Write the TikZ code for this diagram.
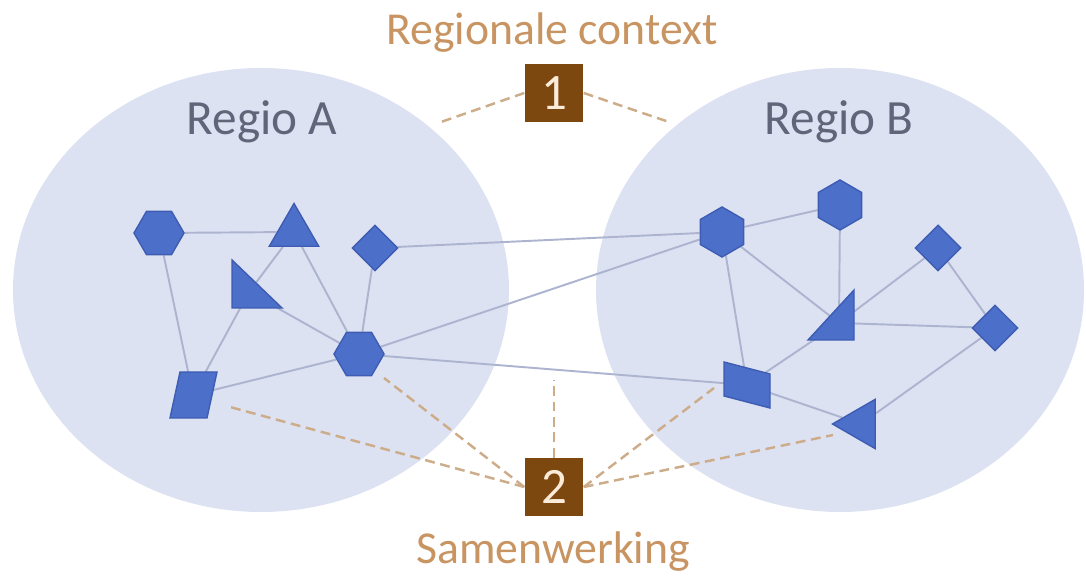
\documentclass[tikz,border=0pt]{standalone}
\usepackage{fontspec}
\setmainfont{Carlito}
\usepackage{xcolor}
\usepackage{tikz}
\usetikzlibrary{shapes.geometric}
\definecolor{regiofill}{RGB}{221,226,243}
\definecolor{shapeblue}{RGB}{76,111,201}
\definecolor{shapeedge}{RGB}{62,92,178}
\definecolor{linkgray}{RGB}{172,180,207}
\definecolor{dashtan}{RGB}{205,172,138}
\definecolor{boxbrown}{RGB}{125,72,16}
\definecolor{boxtext}{RGB}{250,236,216}
\definecolor{labeltan}{RGB}{200,148,98}
\definecolor{regiogray}{RGB}{95,102,122}
\pgfdeclarelayer{bg}
\pgfdeclarelayer{edges}
\pgfsetlayers{bg,edges,main}
\tikzset{
  shp/.style={fill=shapeblue, draw=shapeedge, line width=0.4pt, inner sep=0pt},
  hexa/.style={shp, regular polygon, regular polygon sides=6, minimum size=0.5cm},
  ruit/.style={shp, diamond, minimum width=0.46cm, minimum height=0.46cm},
  drie/.style={shp, regular polygon, regular polygon sides=3, minimum size=0.57cm},
  link/.style={draw=linkgray, line width=0.55pt},
  stip/.style={draw=dashtan, line width=0.7pt, dash pattern=on 2.8pt off 1.6pt},
  nummer/.style={fill=boxbrown, text=boxtext, minimum width=0.58cm, minimum height=0.57cm, inner sep=0pt, font=\fontsize{14.5}{14.5}\selectfont},
  kop/.style={text=labeltan, font=\fontsize{13}{13}\selectfont},
  regiotekst/.style={text=regiogray, font=\fontsize{14}{14}\selectfont}
}
\begin{document}
\begin{tikzpicture}[x=0.01cm, y=-0.01cm]
	\useasboundingbox (0,0) rectangle (1086,577);

	% de twee regio's
	\begin{pgfonlayer}{bg}
		\fill[regiofill] (261,290) ellipse [x radius=248, y radius=222];
		\fill[regiofill] (840,290) ellipse [x radius=244, y radius=222];
	\end{pgfonlayer}
	\node[regiotekst, anchor=base] (naamA) at (262,135) {Regio A};
	\node[regiotekst, anchor=base] (naamB) at (839,135) {Regio B};

	% actoren in regio A
	\node[hexa] (A1) at (159,233) {};
	\node[drie] (A2) at (294,232) {};
	\node[ruit] (A3) at (375,248) {};
	\coordinate (A4) at (249,292);
	\filldraw[shp] (232,260) -- (232,308) -- (282,308) -- cycle;
	\node[hexa] (A5) at (359,354) {};
	\coordinate (A6) at (193,395);
	\filldraw[shp] (180,372) -- (217,372) -- (207,418) -- (170,418) -- cycle;

	% actoren in regio B
	\node[hexa, shape border rotate=30] (B1) at (722,232) {};
	\node[hexa, shape border rotate=30] (B2) at (840,205) {};
	\node[ruit] (B3) at (938,248) {};
	\coordinate (B4) at (839,323);
	\filldraw[shp] (808,340) -- (854,340) -- (854,290) -- cycle;
	\node[ruit] (B5) at (995,328) {};
	\coordinate (B6) at (747,385);
	\filldraw[shp] (724,362) -- (770,374) -- (770,408) -- (724,396) -- cycle;
	\node[drie, shape border rotate=90] (B7) at (861,424) {};

	% verbindingen
	\begin{pgfonlayer}{edges}
		\draw[link] (A1) -- (A2) (A1) -- (A6) (A2) -- (A4) (A4) -- (A6)
			(A4) -- (A5) (A2) -- (A5) (A3) -- (A5) (A6) -- (A5);
		\draw[link] (A3) -- (B1) (A5) -- (B1) (A5) -- (B6);
		\draw[link] (B1) -- (B2) (B1) -- (B6) (B1) -- (B4) (B2) -- (B4)
			(B3) -- (B4) (B3) -- (B5) (B4) -- (B5) (B4) -- (B6)
			(B6) -- (B7) (B5) -- (B7);
	\end{pgfonlayer}

	% 1: regionale context
	\node[kop, anchor=base] (ctx) at (552,45) {Regionale context};
	\node[nummer] (box1) at (554,93) {1};
	\coordinate (c1a) at (441,122);
	\coordinate (c1b) at (669,122);
	\draw[stip] (box1.west) -- (c1a);
	\draw[stip] (box1.east) -- (c1b);

	% 2: samenwerking
	\node[nummer] (box2) at (554,487) {2};
	\node[kop, anchor=base] (samen) at (553,563) {Samenwerking};
	\coordinate (c2a) at (230,407);
	\coordinate (c2b) at (384,378);
	\coordinate (c2c) at (554,380);
	\coordinate (c2d) at (714,388);
	\coordinate (c2e) at (833,435);
	\draw[stip] (box2.west) -- (c2a);
	\draw[stip] (box2.west) -- (c2b);
	\draw[stip] (box2.north) -- (c2c);
	\draw[stip] (box2.east) -- (c2d);
	\draw[stip] (box2.east) -- (c2e);
\end{tikzpicture}
\end{document}
